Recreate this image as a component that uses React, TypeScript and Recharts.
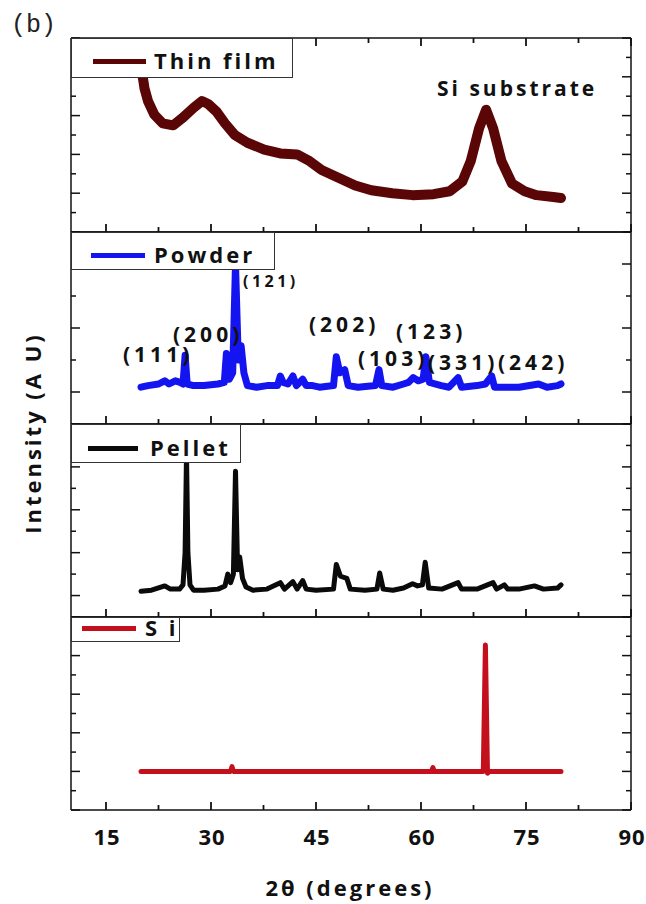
import React from 'react';
import { LineChart, Line, XAxis, YAxis } from 'recharts';

// 2θ positions (degrees) and intensities (arbitrary units, per-panel scale)
const filmTheta = [20, 20.5, 21, 21.9, 23.1, 24.6, 26, 27.5, 28.7, 29.6, 30.8, 32, 33.4, 35.2, 37.6, 39.9, 42.3, 44.1, 45.8, 48.2, 50.6, 52.9, 55.9, 58.8, 61.8, 64.1, 65.9, 67.1, 68.3, 69.3, 70.3, 71.5, 73, 74.8, 76.5, 78.9, 80];
const filmCounts = [8.6, 7.4, 6.75, 6.05, 5.6, 5.5, 5.9, 6.4, 6.75, 6.6, 6.2, 5.6, 5.0, 4.6, 4.25, 4.05, 4.0, 3.65, 3.2, 2.8, 2.4, 2.15, 2.0, 1.9, 1.95, 2.1, 2.6, 3.65, 5.35, 6.3, 5.35, 3.65, 2.5, 2.1, 1.9, 1.8, 1.75];

const powderTheta = [20, 21, 22.5, 23.4, 24, 24.9, 25.6, 26.0, 26.3, 26.6, 27.5, 29, 31, 31.9, 32.2, 32.6, 33.1, 33.5, 33.9, 34.3, 34.7, 35.2, 36.5, 38, 39.5, 39.9, 40.3, 41, 41.7, 42.2, 43.1, 43.6, 44.5, 45.5, 47.5, 47.9, 48.4, 49.1, 49.6, 51, 53.5, 54.0, 54.4, 56, 57.5, 58.2, 58.9, 59.6, 60.3, 60.7, 61.2, 62.9, 64, 65.3, 65.8, 68, 69.2, 70.1, 70.5, 72, 74, 76.8, 78, 79.5, 80];
const powderCounts = [1.15, 1.2, 1.25, 1.35, 1.25, 1.35, 1.3, 1.25, 2.15, 1.25, 1.2, 1.2, 1.25, 1.3, 2.2, 1.4, 1.6, 5.0, 2.0, 2.45, 1.6, 1.2, 1.15, 1.2, 1.2, 1.5, 1.3, 1.25, 1.5, 1.2, 1.4, 1.2, 1.2, 1.15, 1.2, 2.1, 1.6, 1.7, 1.2, 1.15, 1.2, 1.7, 1.2, 1.15, 1.25, 1.3, 1.45, 1.35, 1.4, 2.1, 1.3, 1.2, 1.15, 1.45, 1.15, 1.2, 1.25, 1.5, 1.15, 1.15, 1.15, 1.25, 1.15, 1.2, 1.25];

const pelletTheta = [20, 21.5, 23.4, 24.2, 25.5, 26.0, 26.3, 26.5, 26.7, 27.0, 27.5, 29, 31, 32.0, 32.4, 32.8, 33.2, 33.5, 33.8, 34.1, 34.5, 35, 36, 38, 39.9, 40.5, 41.7, 42.3, 43.1, 43.6, 45, 47.5, 47.9, 48.5, 49.4, 49.9, 52, 53.7, 54.1, 54.6, 56, 57.5, 58.8, 59.5, 60.2, 60.6, 61.1, 63, 65.3, 65.8, 68, 70.3, 70.8, 71.9, 72.4, 74, 76.2, 77.5, 79.5, 80];
const pelletCounts = [1.2, 1.25, 1.45, 1.3, 1.3, 1.5, 3.0, 7.6, 3.0, 1.5, 1.25, 1.25, 1.3, 1.45, 2.0, 1.6, 2.0, 6.8, 2.2, 2.8, 1.8, 1.4, 1.25, 1.3, 1.6, 1.3, 1.65, 1.3, 1.7, 1.3, 1.25, 1.3, 2.45, 1.9, 1.8, 1.3, 1.25, 1.3, 2.05, 1.3, 1.25, 1.35, 1.55, 1.45, 1.5, 2.55, 1.35, 1.3, 1.6, 1.3, 1.3, 1.6, 1.3, 1.5, 1.3, 1.3, 1.45, 1.3, 1.35, 1.5];

const siTheta = [20, 32.8, 33.0, 33.2, 61.5, 61.7, 61.9, 68.9, 69.2, 69.5, 69.7, 80];
const siCounts = [2.0, 2.0, 2.25, 2.0, 2.0, 2.2, 2.0, 2.0, 8.55, 1.9, 2.0, 2.0];

const xTicks = [15, 22.5, 30, 37.5, 45, 52.5, 60, 67.5, 75, 82.5, 90];
const filmTicks = [0, 1, 2, 3, 4, 5, 6, 7, 8, 9, 10];
const powderTicks = [0, 1, 2, 3, 4, 5, 6];
const pelletTicks = [0, 1, 2, 3, 4, 5, 6, 7, 8, 9];
const siTicks = [0, 1, 2, 3, 4, 5, 6, 7, 8, 9, 10];

const hklLabels = ['(111)', '(200)', '(121)', '(202)', '(103)', '(123)', '(331)', '(242)'];

const toRows = (theta: number[], counts: number[]) => theta.map((t, i) => ({ theta: t, counts: counts[i] }));

const AXIS = '#111';
const FONT = "'Open Sans', sans-serif";
const X_MIN = 10;
const X_MAX = 90;
const CHART_W = 646;
const M_LEFT = 70;
const M_RIGHT = 14;
const PLOT_W = CHART_W - M_LEFT - M_RIGHT - 2;

type PanelProps = {
  rows: { theta: number; counts: number }[];
  color: string;
  width: number;
  yTicks: number[];
  majorOdd: boolean;
  top: number;
  bottom: number;
  labels?: boolean;
  topTicks?: boolean;
};

function Panel({ rows, color, width, yTicks, majorOdd, top, bottom, labels, topTicks }: PanelProps) {
  const pad = 6;
  const extra = labels ? 60 : 0;
  const plotH = bottom - top;
  const isMajorY = (v: number) => (v % 2 === 1) === majorOdd;
  const yMax = yTicks[yTicks.length - 1];
  const axisLine = { stroke: AXIS, strokeWidth: 1.5 };

  // inward x ticks hang off the left axis' 0 / max ticks (plot-left corner)
  const xTickMarks = (x0: number, y0: number, dir: number) =>
    xTicks.map((t) => {
      const xx = x0 + ((t - X_MIN) / (X_MAX - X_MIN)) * PLOT_W;
      const len = t % 15 === 0 ? 8 : 5;
      return <line key={t} x1={xx} y1={y0} x2={xx} y2={y0 + dir * len} stroke={AXIS} strokeWidth={1.8} />;
    });

  const bottomTick = (p: any) => {
    const major = p.payload.value % 15 === 0;
    if (!labels || !major) return <g />;
    return (
      <text x={p.x + 1} y={p.y + 35} textAnchor="middle" fontFamily={FONT} fontWeight={700} fontSize={22} letterSpacing={1} fill="#111">
        {p.payload.value}
      </text>
    );
  };
  const leftTick = (p: any) => {
    const v = p.payload.value;
    return (
      <g>
        <line x1={p.x} y1={p.y} x2={p.x + (isMajorY(v) ? 9 : 5)} y2={p.y} stroke={AXIS} strokeWidth={1.5} />
        {v === 0 && xTickMarks(p.x, p.y, -1)}
        {topTicks && v === yMax && xTickMarks(p.x, p.y, 1)}
      </g>
    );
  };
  const rightTick = (p: any) => (
    <line x1={p.x} y1={p.y} x2={p.x - (isMajorY(p.payload.value) ? 9 : 5)} y2={p.y} stroke={AXIS} strokeWidth={1.5} />
  );

  return (
    <div style={{ position: 'absolute', left: 0, top: top - pad }}>
      <LineChart
        width={CHART_W}
        height={plotH + pad * 2 + extra}
        data={rows}
        margin={{ top: pad - 1, right: M_RIGHT, bottom: pad - 1 + extra, left: M_LEFT }}
      >
        <XAxis xAxisId="b" dataKey="theta" type="number" domain={[X_MIN, X_MAX]} ticks={xTicks} interval={0} height={1} tickSize={0} tickMargin={0} tick={bottomTick} axisLine={axisLine} tickLine={false} />
        <XAxis xAxisId="t" orientation="top" dataKey="theta" type="number" domain={[X_MIN, X_MAX]} ticks={xTicks} interval={0} height={1} tick={false} axisLine={axisLine} tickLine={false} />
        <YAxis yAxisId="l" type="number" domain={[0, yMax]} ticks={yTicks} interval={0} width={1} tickSize={0} tickMargin={0} tick={leftTick} axisLine={axisLine} tickLine={false} />
        <YAxis yAxisId="r" orientation="right" type="number" domain={[0, yMax]} ticks={yTicks} interval={0} width={1} tickSize={0} tickMargin={0} tick={rightTick} axisLine={axisLine} tickLine={false} />
        {/* hidden twin so the top and right frame axes get a scale */}
        <Line xAxisId="t" yAxisId="r" type="linear" dataKey="counts" stroke="none" strokeOpacity={0} dot={false} activeDot={false} legendType="none" isAnimationActive={false} />
        <Line xAxisId="b" yAxisId="l" type="linear" dataKey="counts" stroke={color} strokeWidth={width} strokeLinejoin="round" strokeLinecap="round" dot={false} isAnimationActive={false} />
      </LineChart>
    </div>
  );
}

const txt: React.CSSProperties = {
  position: 'absolute',
  fontFamily: FONT,
  fontWeight: 700,
  lineHeight: 1,
  whiteSpace: 'nowrap',
  color: '#111',
};

function LegendBox({ left, top, w, h, color, lineX, lineW, lineY, textX, text }: any) {
  return (
    <>
      <div style={{ position: 'absolute', left, top, width: w, height: h, background: '#fff', border: '1.5px solid #333', boxSizing: 'border-box' }} />
      <div style={{ position: 'absolute', left: lineX, top: lineY - 2.5, width: lineW, height: 5, background: color }} />
      <div style={{ ...txt, left: textX, top: lineY - 12, fontSize: 22, letterSpacing: 3 }}>{text}</div>
    </>
  );
}

export default function App() {
  const hkl = (i: number, left: number, cy: number, size = 21) => (
    <div style={{ ...txt, left, top: cy - size * 0.53, fontSize: size, letterSpacing: size < 18 ? 3.5 : 4 }}>{hklLabels[i]}</div>
  );
  return (
    <div style={{ position: 'absolute', left: 0, top: 0, width: 646, height: 904, background: '#fff', overflow: 'hidden' }}>
      <Panel rows={toRows(filmTheta, filmCounts)} color="#5a0606" width={10} yTicks={filmTicks} majorOdd={false} top={38} bottom={232} topTicks />
      <Panel rows={toRows(powderTheta, powderCounts)} color="#1414f0" width={7} yTicks={powderTicks} majorOdd={true} top={232} bottom={424} />
      <Panel rows={toRows(pelletTheta, pelletCounts)} color="#0a0a0a" width={5} yTicks={pelletTicks} majorOdd={true} top={424} bottom={617} />
      <Panel rows={toRows(siTheta, siCounts)} color="#c4101c" width={5} yTicks={siTicks} majorOdd={false} top={617} bottom={810} labels />

      <LegendBox left={71} top={38} w={222} h={40} color="#5a0606" lineX={93} lineW={53} lineY={61} textX={154} text="Thin film" />
      <LegendBox left={71} top={232} w={204} h={38} color="#1414f0" lineX={91} lineW={54} lineY={255} textX={154} text="Powder" />
      <LegendBox left={71} top={424} w={170} h={39} color="#0a0a0a" lineX={88} lineW={50} lineY={448} textX={150} text="Pellet" />
      <LegendBox left={71} top={617} w={109} h={25} color="#c4101c" lineX={82} lineW={54} lineY={628} textX={145} text="S i" />

      <div style={{ ...txt, left: 437, top: 89 - 11, fontSize: 21, letterSpacing: 3 }}>Si substrate</div>

      {hkl(0, 123, 355)}
      {hkl(1, 173, 335)}
      {hkl(2, 243, 281, 16)}
      {hkl(3, 309, 325)}
      {hkl(4, 358, 359)}
      {hkl(5, 396, 332)}
      {hkl(6, 428, 363)}
      {hkl(7, 498, 363)}

      <div style={{ position: 'absolute', left: 11, top: 13, fontFamily: "'Liberation Mono', monospace", fontSize: 25, lineHeight: 1, color: '#222' }}>(b)</div>

      <div style={{ ...txt, left: 32, top: 433, fontSize: 22, letterSpacing: 3, transform: 'translate(-50%, -50%) rotate(-90deg)' }}>Intensity (A U)</div>

      <div style={{ ...txt, left: 350, top: 888, fontSize: 22, letterSpacing: 3, transform: 'translate(-50%, -53%)' }}>2θ (degrees)</div>
    </div>
  );
}
